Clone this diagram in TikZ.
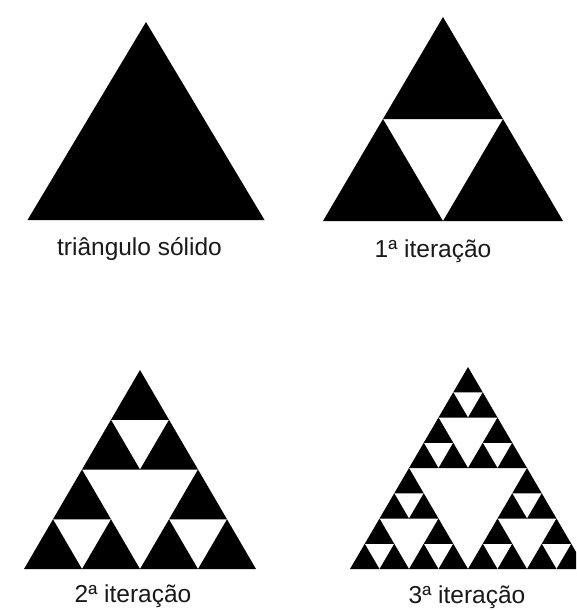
\documentclass[tikz,border=0pt]{standalone}
\usepackage{fontspec}
\setmainfont{Liberation Sans}
\usepackage{tikz}
\usetikzlibrary{positioning}

% level, apex x, apex y, width, height
\newcommand{\sierp}[5]{%
  \ifnum#1=0
    \fill[black] (#2,#3) -- ++(-#4/2,#5) -- ++(#4,0) -- cycle;
  \else
    \begingroup
    \pgfmathtruncatemacro{\lvl}{#1-1}
    \pgfmathsetmacro{\hw}{#4/2}
    \pgfmathsetmacro{\hh}{#5/2}
    \pgfmathsetmacro{\xl}{#2-#4/4}
    \pgfmathsetmacro{\xr}{#2+#4/4}
    \pgfmathsetmacro{\ym}{#3+#5/2}
    \edef\nextsub{%
      \noexpand\sierp{\lvl}{#2}{#3}{\hw}{\hh}%
      \noexpand\sierp{\lvl}{\xl}{\ym}{\hw}{\hh}%
      \noexpand\sierp{\lvl}{\xr}{\ym}{\hw}{\hh}}%
    \nextsub
    \endgroup
  \fi}

\begin{document}
\begin{tikzpicture}[
  x=1pt,y=-1pt,
  lbl/.style={anchor=base,inner sep=0pt,text=black!90,font=\fontsize{24.5}{29}\selectfont}
]
\clip (0,0) rectangle (576,610);
\fill[white] (0,0) rectangle (576,610);

\sierp{0}{146}{22}{237}{198}
\sierp{1}{443}{17}{240}{204}
\sierp{2}{140}{370}{232}{199}
\sierp{3}{468}{367}{236}{202}

\node[lbl] (solido) at (139.5,255) {triângulo sólido};
\node[lbl] (it1) at (433,257) {1ª iteração};
\node[lbl] (it2) at (133,602) {2ª iteração};
\node[lbl] (it3) at (467,603) {3ª iteração};
\end{tikzpicture}
\end{document}
